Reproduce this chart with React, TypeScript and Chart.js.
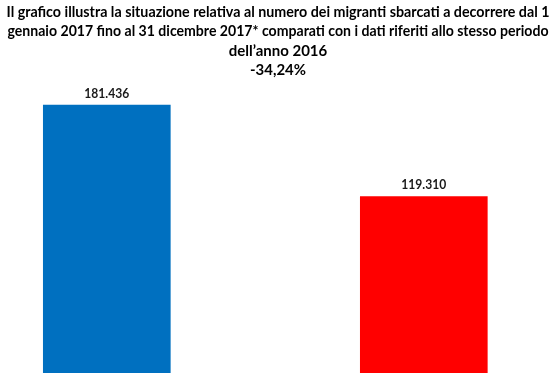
import React, { useEffect, useRef } from "react";
import { Chart, registerables } from "chart.js";

Chart.register(...registerables);

const categories = ["2016", "2017"];
const values = [181436, 119310];
const barColors = ["#0070C0", "#FF0000"];
const titleLines = [
  "Il grafico illustra la situazione relativa al numero dei migranti sbarcati a decorrere dal 1",
  "gennaio 2017 fino al 31 dicembre 2017* comparati con i dati riferiti allo stesso periodo",
  "dell\u2019anno 2016",
  "-34,24%",
];

function formatIt(v: number): string {
  const s = String(Math.round(v));
  return s.replace(/\B(?=(\d{3})+(?!\d))/g, ".");
}

const titlePlugin = {
  id: "multiTitle",
  afterDraw(chart: any) {
    const ctx = chart.ctx;
    ctx.save();
    ctx.fillStyle = "#000000";
    ctx.font = "bold 15px Lato, 'Open Sans', sans-serif";
    ctx.textAlign = "center";
    ctx.textBaseline = "alphabetic";
    const cx = chart.width / 2 + 1;
    const baselines = [16.5, 36, 55.5, 75];
    const maxW = [543, 541, 100, 56];
    titleLines.forEach((t, i) => {
      ctx.fillText(t, cx, baselines[i], maxW[i]);
    });
    ctx.restore();
  },
};

const labelPlugin = {
  id: "barLabels",
  afterDatasetsDraw(chart: any) {
    const ctx = chart.ctx;
    const meta = chart.getDatasetMeta(0);
    ctx.save();
    ctx.fillStyle = "#1a1a1a";
    ctx.font = "bold 14px Lato, 'Open Sans', sans-serif";
    ctx.textAlign = "center";
    ctx.textBaseline = "middle";
    meta.data.forEach((bar: any, i: number) => {
      ctx.fillText(formatIt(values[i]), bar.x, bar.y - 12, 45);
    });
    ctx.restore();
  },
};

export default function App() {
  const ref = useRef<HTMLCanvasElement | null>(null);
  useEffect(() => {
    if (!ref.current) return;
    const chart = new Chart(ref.current, {
      type: "bar",
      data: {
        labels: categories,
        datasets: [
          {
            data: values,
            backgroundColor: barColors,
            borderWidth: 0,
            barThickness: 127,
            clip: false as any,
          },
        ],
      },
      options: {
        responsive: false,
        animation: false,
        devicePixelRatio: 1,
        layout: {
          padding: { top: 77.6, bottom: 12.3, left: 106.8, right: 130.2 },
        },
        plugins: {
          legend: { display: false },
          title: { display: false },
          tooltip: { enabled: false },
        },
        scales: {
          x: { display: false, offset: false, grid: { display: false } },
          y: { display: false, min: 0, max: 200000, grid: { display: false } },
        },
      },
      plugins: [titlePlugin, labelPlugin],
    });
    return () => chart.destroy();
  }, []);
  return (
    <div style={{ position: "absolute", left: 0, top: 0, width: 554, height: 385, background: "#fff" }}>
      <canvas ref={ref} width={554} height={385} style={{ display: "block", width: 554, height: 385 }} />
    </div>
  );
}
